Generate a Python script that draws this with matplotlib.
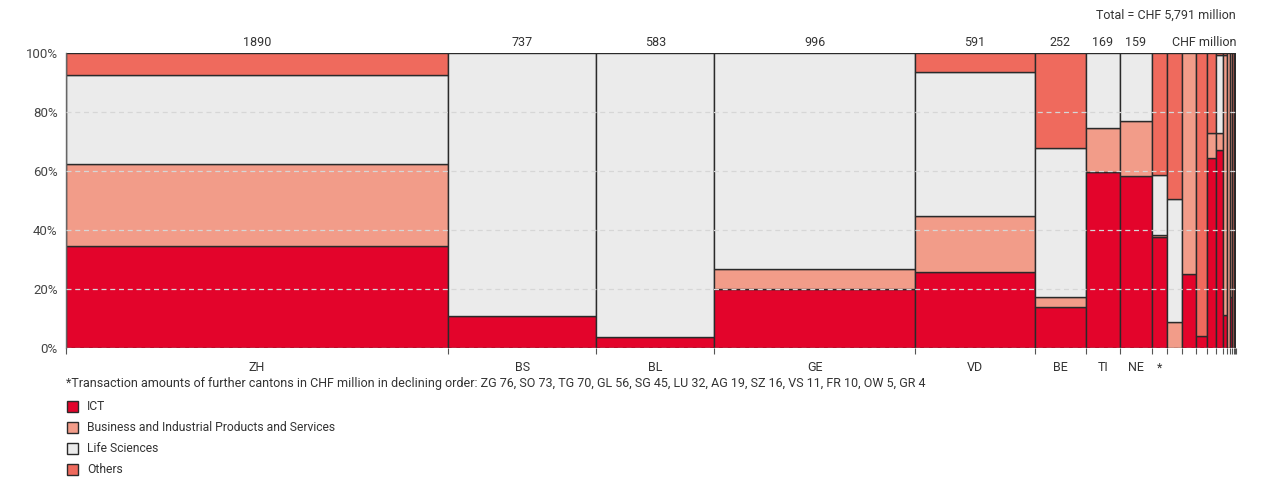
import numpy as np
import matplotlib
matplotlib.use("Agg")
import matplotlib.pyplot as plt
from matplotlib.patches import Rectangle

plt.rcParams["font.family"] = ["Roboto", "DejaVu Sans"]

# Marimekko data: bar width = transaction amount, segments = sector shares (%)
CANTONS = ["ZH", "BS", "BL", "GE", "VD", "BE", "TI", "NE",
           "ZG", "SO", "TG", "GL", "SG", "LU", "AG", "SZ", "VS", "FR", "OW", "GR"]
AMOUNTS = [1890, 737, 583, 996, 591, 252, 169, 159,
           76, 73, 70, 56, 45, 32, 19, 16, 11, 10, 5, 4]
X_LABELS = ["ZH", "BS", "BL", "GE", "VD", "BE", "TI", "NE", "*"]
TOP_LABELS = ["1890", "737", "583", "996", "591", "252", "169", "159"]

ICT    = [34.6, 10.8, 3.8, 20.0, 25.8, 13.8, 59.5, 58.2,
          37.7, 0.0, 25.0, 4.0, 64.3, 67.1, 11.2, 0.0, 17.4, 0.0, 0.0, 60.0]
BIPS   = [27.8, 0.0, 0.0, 6.8, 18.9, 3.6, 15.2, 18.7,
          0.5, 8.7, 75.0, 0.0, 8.7, 5.9, 88.0, 100.0, 82.6, 0.0, 100.0, 0.0]
LIFE   = [30.1, 89.2, 96.2, 73.2, 49.0, 50.4, 25.3, 23.1,
          20.4, 41.7, 0.0, 0.0, 0.0, 26.3, 0.0, 0.0, 0.0, 0.0, 0.0, 0.0]
OTHERS = [7.5, 0.0, 0.0, 0.0, 6.3, 32.2, 0.0, 0.0,
          41.4, 49.6, 0.0, 96.0, 27.0, 0.7, 0.8, 0.0, 0.0, 100.0, 0.0, 40.0]

SECTORS = ["ICT", "Business and Industrial Products and Services",
           "Life Sciences", "Others"]
COLORS = ["#e3042b", "#f29c89", "#ebebeb", "#ef6a5d"]

FOOTNOTE = ("*Transaction amounts of further cantons in CHF million in declining order: "
            "ZG 76, SO 73, TG 70, GL 56, SG 45, LU 32, AG 19, SZ 16, VS 11, FR 10, OW 5, GR 4")

TEXT = "#333333"

fig = plt.figure(figsize=(12.65, 4.79), dpi=100)
ax = fig.add_axes([66 / 1265, 1 - 348 / 479, 1170 / 1265, 295 / 479])

amounts = np.array(AMOUNTS, dtype=float)
lefts = np.concatenate([[0], np.cumsum(amounts)[:-1]])
total = amounts.sum()

series = [ICT, BIPS, LIFE, OTHERS]
for i, (x0, w) in enumerate(zip(lefts, amounts)):
    bottom = 0.0
    for vals, col in zip(series, COLORS):
        h = vals[i]
        if h <= 0:
            continue
        ax.add_patch(Rectangle((x0, bottom), w, h, facecolor=col,
                               edgecolor="#2a2a2a", linewidth=1.0, zorder=2))
        bottom += h

ax.set_xlim(0, total)
ax.set_ylim(0, 100)

# dashed grid drawn over the bars
for y in [0, 20, 40, 60, 80]:
    ax.axhline(y, color="#d6d6d6", linestyle=(0, (4, 3)), linewidth=0.9, zorder=3)

ax.set_yticks([0, 20, 40, 60, 80, 100])
ax.set_yticklabels([f"{v}%" for v in [0, 20, 40, 60, 80, 100]])
ax.tick_params(axis="y", length=0, labelsize=9.5, labelcolor="#444444", pad=6)

edges = np.concatenate([lefts, [total]])
ax.set_xticks(edges)
ax.set_xticklabels([])
ax.tick_params(axis="x", length=4, color="#555555", width=0.8)

for sp in ["top", "right", "bottom"]:
    ax.spines[sp].set_visible(False)
ax.spines["left"].set_color("#666666")
ax.spines["left"].set_linewidth(1.0)

# canton labels under the bars, amount labels above
for i, lab in enumerate(X_LABELS):
    ax.text(lefts[i] + amounts[i] / 2, -4.5, lab, ha="center", va="top",
            fontsize=9, color=TEXT)
for i, lab in enumerate(TOP_LABELS):
    ax.text(lefts[i] + amounts[i] / 2, 101.5, lab, ha="center", va="bottom",
            fontsize=9, color=TEXT)
ax.text(total, 101.5, "CHF million", ha="right", va="bottom", fontsize=9, color=TEXT)
ax.text(total, 1.105, "Total = CHF 5,791 million", transform=ax.get_xaxis_transform(),
        ha="right", va="bottom", fontsize=9, color=TEXT)

fig.text(66 / 1265, 1 - 384 / 479, FOOTNOTE, ha="left", va="center",
         fontsize=9, color=TEXT)

for k, (name, col) in enumerate(zip(SECTORS, COLORS)):
    yc = 406 + k * 21.3
    fig.patches.append(Rectangle((67 / 1265, 1 - (yc + 5.5) / 479), 11 / 1265, 11 / 479,
                                 transform=fig.transFigure, facecolor=col,
                                 edgecolor="#2a2a2a", linewidth=1.0))
    fig.text(87 / 1265, 1 - yc / 479, name, ha="left", va="center",
             fontsize=8.7, color=TEXT)

fig.savefig("out.png", dpi=100)
